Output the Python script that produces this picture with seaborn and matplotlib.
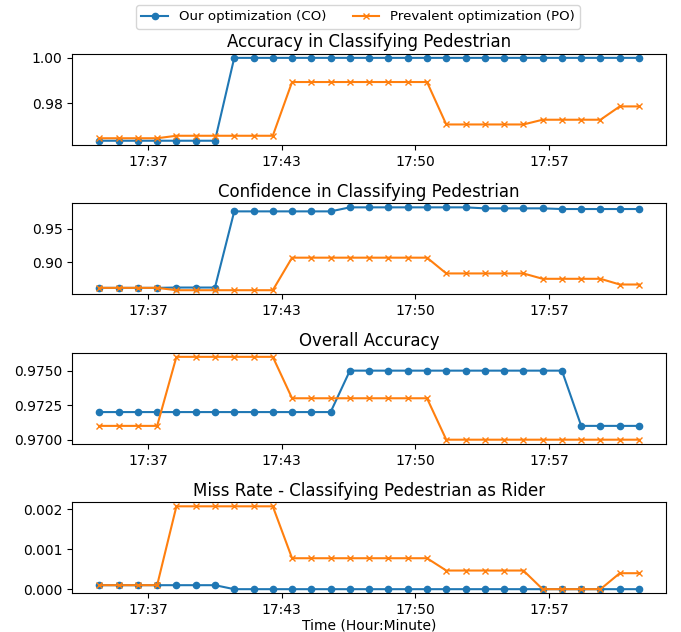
import numpy as np
import pandas as pd
import matplotlib
matplotlib.use("Agg")
import matplotlib.pyplot as plt
import seaborn as sns

# ---- data ----
sample_index = list(range(29))
tick_labels = ["17:37", "17:43", "17:50", "17:57"]

titles = [
    "Accuracy in Classifying Pedestrian",
    "Confidence in Classifying Pedestrian",
    "Overall Accuracy",
    "Miss Rate - Classifying Pedestrian as Rider",
]
series_names = ["Our optimization (CO)", "Prevalent optimization (PO)"]

acc_co = [0.9633] * 7 + [1.000] * 22
acc_po = ([0.9644] * 4 + [0.9655] * 6 + [0.9893] * 8 + [0.9705] * 5
          + [0.9726] * 4 + [0.9785] * 2)

conf_co = ([0.862] * 4 + [0.8625] * 3 + [0.976] * 6 + [0.982] * 7
           + [0.9805] * 4 + [0.9795] * 5)
conf_po = ([0.862] * 4 + [0.8585] * 6 + [0.907] * 8 + [0.8835] * 5
           + [0.8755] * 4 + [0.867] * 2)

overall_co = [0.9720] * 13 + [0.9750] * 12 + [0.9710] * 4
overall_po = [0.9710] * 4 + [0.9760] * 6 + [0.9730] * 8 + [0.9700] * 11

miss_co = [0.0001] * 7 + [0.0] * 22
miss_po = ([0.0001] * 4 + [0.002075] * 6 + [0.000775] * 8 + [0.000467] * 5
           + [0.0] * 4 + [0.0004] * 2)

panels = [
    (acc_co, acc_po),
    (conf_co, conf_po),
    (overall_co, overall_po),
    (miss_co, miss_po),
]
yticks = [
    [0.98, 1.00],
    [0.90, 0.95],
    [0.9700, 0.9725, 0.9750],
    [0.000, 0.001, 0.002],
]
yfmt = ["{:.2f}", "{:.2f}", "{:.4f}", "{:.3f}"]

# ---- figure ----
fig = plt.figure(figsize=(6.81, 6.32), dpi=100)
axes = fig.subplots(4, 1)
fig.subplots_adjust(left=0.1062, right=0.978, top=0.9150, bottom=0.0612,
                    hspace=0.64)

colors = ["#1f77b4", "#ff7f0e"]
markers = ["o", "x"]
tick_pos = [2.55, 9.46, 16.39, 23.33]

for ax, (co, po), title, yt, fmt in zip(axes, panels, titles, yticks, yfmt):
    for vals, name, c, m in zip((co, po), series_names, colors, markers):
        df = pd.DataFrame({"idx": sample_index, "val": vals})
        sns.lineplot(data=df, x="idx", y="val", ax=ax, color=c, marker=m,
                     markersize=4.5 if m == "o" else 5, markeredgecolor=c,
                     markeredgewidth=1.0, linewidth=1.5, label=name,
                     legend=False)
    ax.set_title(title, fontsize=12, pad=4.5)
    ax.set_xticks(tick_pos)
    ax.set_xticklabels(tick_labels)
    ax.set_yticks(yt)
    ax.set_yticklabels([fmt.format(v) for v in yt])
    ax.set_xlabel("")
    ax.set_ylabel("")

axes[-1].set_xlabel("Time (Hour:Minute)", labelpad=1.0)

handles, labels = axes[0].get_legend_handles_labels()
fig.legend(handles, labels, loc="upper center", ncol=2,
           bbox_to_anchor=(358 / 681, 1 - 1 / 632), fontsize=9.6,
           borderaxespad=0.3)

fig.savefig("out.png", dpi=100)
